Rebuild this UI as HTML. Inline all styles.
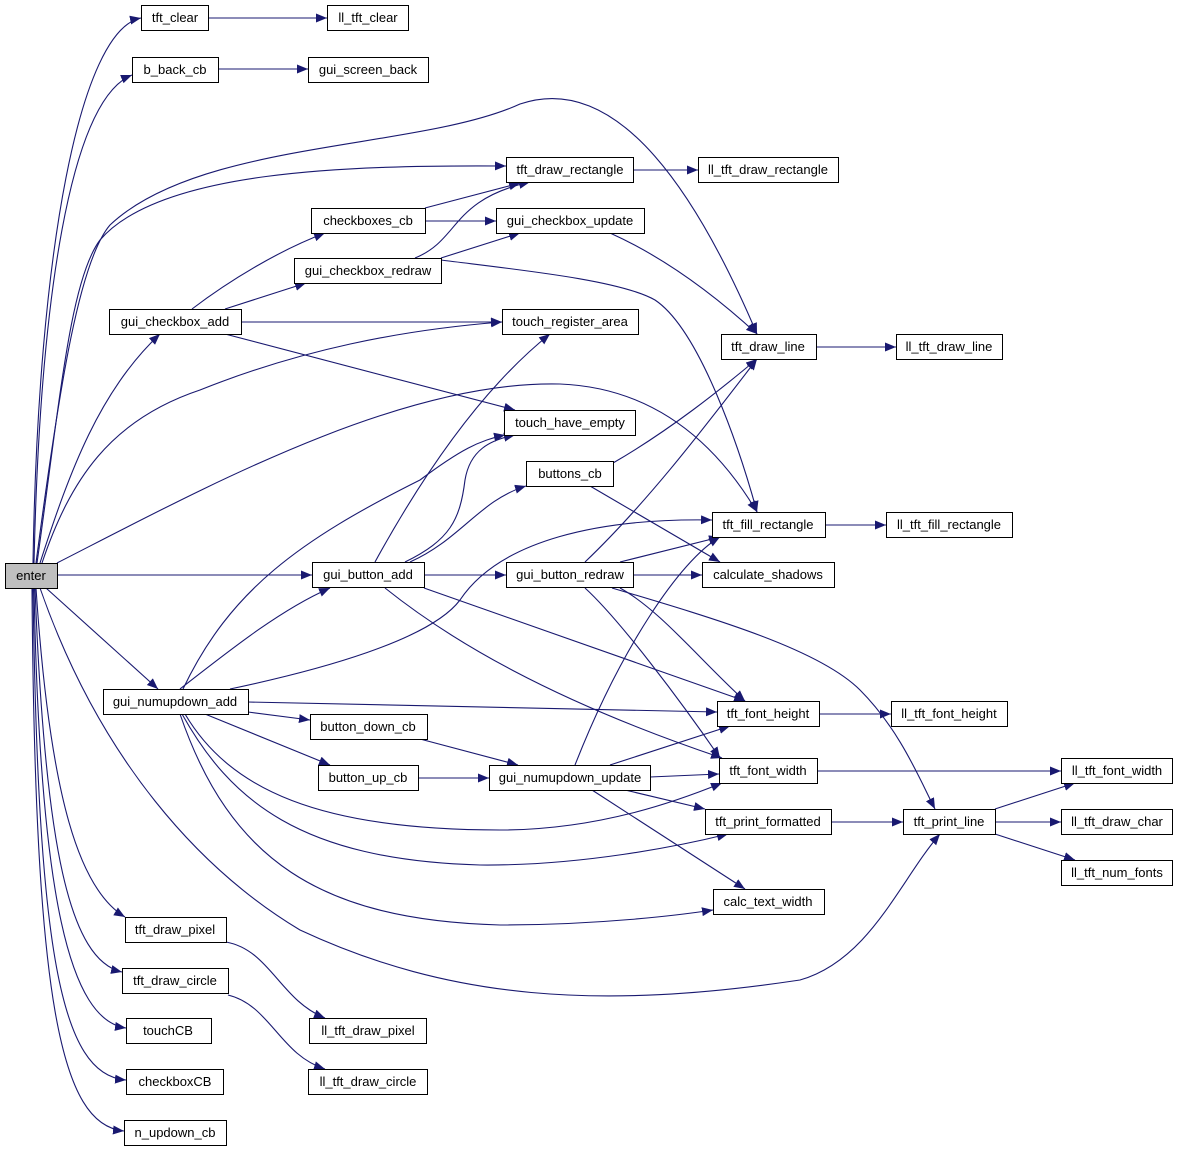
<!DOCTYPE html>
<html><head><meta charset="utf-8"><style>
html,body{margin:0;padding:0;background:#fff;}
svg text{font-family:"Liberation Sans",Arial,sans-serif;font-size:13px;fill:#000;}
</style></head><body>
<svg width="1179" height="1152" viewBox="0 0 1179 1152" xmlns="http://www.w3.org/2000/svg">
<defs><marker id="a" markerUnits="userSpaceOnUse" markerWidth="12" markerHeight="10" refX="11" refY="4.5" orient="auto"><path d="M0,0 L11,4.5 L0,9 Z" fill="#191970"/></marker></defs>
<g fill="none" stroke="#191970" stroke-width="1.1" marker-end="url(#a)">
<path d="M33,563 C38,250 80,30 141,18"/>
<path d="M34,563 C40,300 70,100 132,75"/>
<path d="M36,563 C60,380 80,260 110,225 C200,140 420,150 520,104 C620,70 700,200 757,334"/>
<path d="M37,563 C60,400 70,280 100,240 C160,170 350,165 506,166"/>
<path d="M40,563 C70,470 100,390 160,334"/>
<path d="M42,563 C70,480 110,420 200,390 C300,350 400,330 502,322"/>
<path d="M57,563 C200,490 400,380 560,384 C660,388 720,450 757,512"/>
<path d="M57,575 L312,575"/>
<path d="M46,588 L158,689"/>
<path d="M40,588 C100,760 200,870 300,930 C450,1000 600,1010 800,980 C870,960 900,880 940,834"/>
<path d="M36,588 C50,800 80,890 125,917"/>
<path d="M35,588 C45,850 70,960 122,972"/>
<path d="M34,588 C40,900 70,1020 126,1028"/>
<path d="M33,588 C38,950 60,1075 126,1080"/>
<path d="M32,588 C35,1000 60,1125 124,1131"/>
<path d="M208,18 L327,18"/>
<path d="M218,69 L308,69"/>
<path d="M633,170 L698,170"/>
<path d="M425,208 L520,183"/>
<path d="M425,221 L496,221"/>
<path d="M192,309 C230,280 280,250 325,233"/>
<path d="M225,309 L306,283"/>
<path d="M241,322 L502,322"/>
<path d="M225,334 L515,410"/>
<path d="M415,258 C460,240 450,200 530,182"/>
<path d="M441,258 L520,233"/>
<path d="M441,260 C520,270 620,280 655,300 C700,330 740,450 757,512"/>
<path d="M610,233 C670,260 720,300 757,334"/>
<path d="M816,347 L896,347"/>
<path d="M613,463 C670,430 720,390 757,359"/>
<path d="M590,486 L720,562"/>
<path d="M825,525 L886,525"/>
<path d="M375,562 C420,480 480,390 550,334"/>
<path d="M405,562 C450,540 460,520 465,480 C470,450 490,440 515,435"/>
<path d="M410,562 C460,540 480,500 526,486"/>
<path d="M424,575 L506,575"/>
<path d="M424,588 L745,701"/>
<path d="M385,588 C450,640 550,700 722,758"/>
<path d="M585,562 C650,500 710,420 757,359"/>
<path d="M620,562 L720,537"/>
<path d="M633,575 L702,575"/>
<path d="M620,588 C660,610 700,660 745,701"/>
<path d="M585,588 C620,620 680,700 720,758"/>
<path d="M612,588 C720,620 820,650 860,690 C900,730 920,780 935,809"/>
<path d="M183,689 C230,590 300,540 420,480 C460,450 480,440 505,435"/>
<path d="M180,689 C230,650 280,610 330,588"/>
<path d="M230,689 C320,670 430,640 460,600 C500,540 600,518 712,520"/>
<path d="M248,702 L717,712"/>
<path d="M248,712 L310,720"/>
<path d="M205,714 L330,765"/>
<path d="M185,714 C230,790 320,830 500,830 C600,830 680,800 722,783"/>
<path d="M182,714 C230,800 300,860 480,865 C580,866 680,846 728,834"/>
<path d="M180,714 C230,860 320,920 500,925 C600,925 680,915 713,910"/>
<path d="M420,739 L518,765"/>
<path d="M418,778 L489,778"/>
<path d="M575,765 C620,650 680,560 720,537"/>
<path d="M610,765 L730,726"/>
<path d="M650,777 L719,774"/>
<path d="M625,790 L705,809"/>
<path d="M592,790 L745,889"/>
<path d="M819,714 L891,714"/>
<path d="M817,771 L1061,771"/>
<path d="M831,822 L903,822"/>
<path d="M995,809 L1075,783"/>
<path d="M995,822 L1061,822"/>
<path d="M995,834 L1075,860"/>
<path d="M226,942 C270,950 280,1000 325,1018"/>
<path d="M228,995 C270,1005 280,1055 325,1069"/>
</g>
<g stroke="#000" stroke-width="1" fill="#fff" text-anchor="middle">
<rect x="5.5" y="563.5" width="52" height="25" fill="#bfbfbf"/><text x="31" y="580" stroke="none">enter</text>
<rect x="141.5" y="5.5" width="67" height="25"/><text x="175" y="22" stroke="none">tft_clear</text>
<rect x="327.5" y="5.5" width="81" height="25"/><text x="368" y="22" stroke="none">ll_tft_clear</text>
<rect x="132.5" y="57.5" width="86" height="25"/><text x="175" y="74" stroke="none">b_back_cb</text>
<rect x="308.5" y="57.5" width="120" height="25"/><text x="368" y="74" stroke="none">gui_screen_back</text>
<rect x="506.5" y="157.5" width="127" height="25"/><text x="570" y="174" stroke="none">tft_draw_rectangle</text>
<rect x="698.5" y="157.5" width="140" height="25"/><text x="768" y="174" stroke="none">ll_tft_draw_rectangle</text>
<rect x="311.5" y="208.5" width="114" height="25"/><text x="368" y="225" stroke="none">checkboxes_cb</text>
<rect x="496.5" y="208.5" width="148" height="25"/><text x="570" y="225" stroke="none">gui_checkbox_update</text>
<rect x="294.5" y="258.5" width="147" height="25"/><text x="368" y="275" stroke="none">gui_checkbox_redraw</text>
<rect x="109.5" y="309.5" width="132" height="25"/><text x="175" y="326" stroke="none">gui_checkbox_add</text>
<rect x="502.5" y="309.5" width="136" height="25"/><text x="570" y="326" stroke="none">touch_register_area</text>
<rect x="721.5" y="334.5" width="95" height="25"/><text x="768" y="351" stroke="none">tft_draw_line</text>
<rect x="896.5" y="334.5" width="106" height="25"/><text x="949" y="351" stroke="none">ll_tft_draw_line</text>
<rect x="504.5" y="410.5" width="131" height="25"/><text x="570" y="427" stroke="none">touch_have_empty</text>
<rect x="526.5" y="461.5" width="87" height="25"/><text x="570" y="478" stroke="none">buttons_cb</text>
<rect x="712.5" y="512.5" width="113" height="25"/><text x="768" y="529" stroke="none">tft_fill_rectangle</text>
<rect x="886.5" y="512.5" width="126" height="25"/><text x="949" y="529" stroke="none">ll_tft_fill_rectangle</text>
<rect x="312.5" y="562.5" width="112" height="25"/><text x="368" y="579" stroke="none">gui_button_add</text>
<rect x="506.5" y="562.5" width="127" height="25"/><text x="570" y="579" stroke="none">gui_button_redraw</text>
<rect x="702.5" y="562.5" width="132" height="25"/><text x="768" y="579" stroke="none">calculate_shadows</text>
<rect x="103.5" y="689.5" width="145" height="25"/><text x="175" y="706" stroke="none">gui_numupdown_add</text>
<rect x="717.5" y="701.5" width="102" height="25"/><text x="768" y="718" stroke="none">tft_font_height</text>
<rect x="891.5" y="701.5" width="116" height="25"/><text x="949" y="718" stroke="none">ll_tft_font_height</text>
<rect x="310.5" y="714.5" width="117" height="25"/><text x="368" y="731" stroke="none">button_down_cb</text>
<rect x="318.5" y="765.5" width="100" height="25"/><text x="368" y="782" stroke="none">button_up_cb</text>
<rect x="489.5" y="765.5" width="161" height="25"/><text x="570" y="782" stroke="none">gui_numupdown_update</text>
<rect x="719.5" y="758.5" width="98" height="25"/><text x="768" y="775" stroke="none">tft_font_width</text>
<rect x="1061.5" y="758.5" width="111" height="25"/><text x="1117" y="775" stroke="none">ll_tft_font_width</text>
<rect x="705.5" y="809.5" width="126" height="25"/><text x="768" y="826" stroke="none">tft_print_formatted</text>
<rect x="903.5" y="809.5" width="92" height="25"/><text x="949" y="826" stroke="none">tft_print_line</text>
<rect x="1061.5" y="809.5" width="111" height="25"/><text x="1117" y="826" stroke="none">ll_tft_draw_char</text>
<rect x="1061.5" y="860.5" width="111" height="25"/><text x="1117" y="877" stroke="none">ll_tft_num_fonts</text>
<rect x="713.5" y="889.5" width="111" height="25"/><text x="768" y="906" stroke="none">calc_text_width</text>
<rect x="125.5" y="917.5" width="101" height="25"/><text x="175" y="934" stroke="none">tft_draw_pixel</text>
<rect x="122.5" y="968.5" width="106" height="25"/><text x="175" y="985" stroke="none">tft_draw_circle</text>
<rect x="309.5" y="1018.5" width="117" height="25"/><text x="368" y="1035" stroke="none">ll_tft_draw_pixel</text>
<rect x="126.5" y="1018.5" width="85" height="25"/><text x="168" y="1035" stroke="none">touchCB</text>
<rect x="308.5" y="1069.5" width="119" height="25"/><text x="368" y="1086" stroke="none">ll_tft_draw_circle</text>
<rect x="126.5" y="1069.5" width="97" height="25"/><text x="175" y="1086" stroke="none">checkboxCB</text>
<rect x="124.5" y="1120.5" width="102" height="25"/><text x="175" y="1137" stroke="none">n_updown_cb</text>
</g>
</svg>
</body></html>
